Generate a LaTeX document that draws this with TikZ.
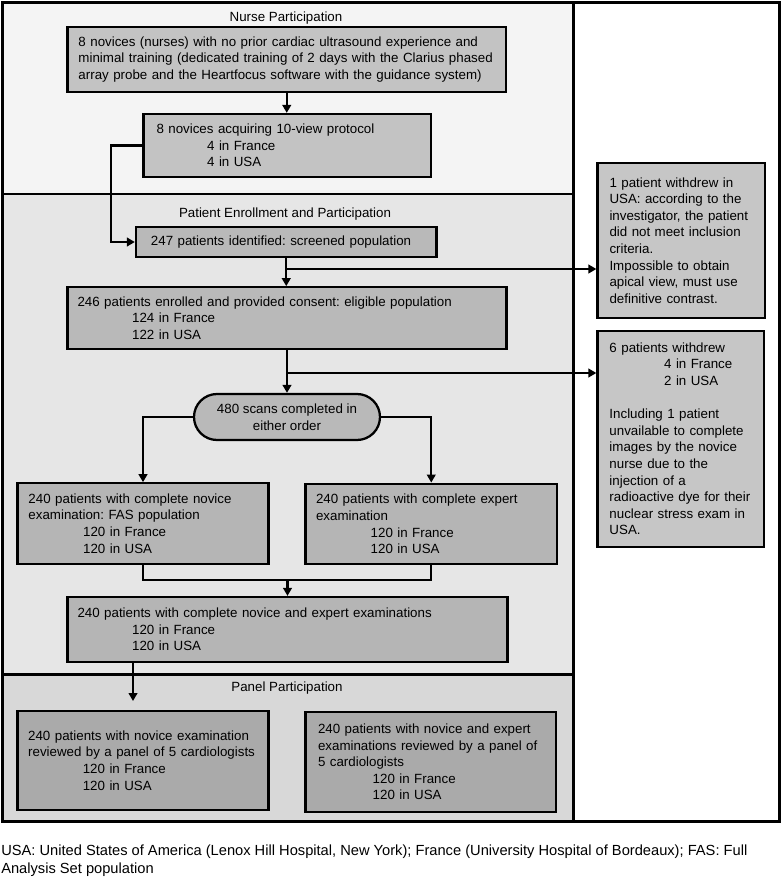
\documentclass[tikz,border=0pt]{standalone}
\usepackage{fontspec}
\setmainfont{Liberation Sans}
\usetikzlibrary{arrows.meta}
\frenchspacing
\hyphenpenalty=10000
\exhyphenpenalty=10000
\definecolor{nurseBG}{HTML}{F4F4F4}
\definecolor{patBG}{HTML}{E6E6E6}
\definecolor{panBG}{HTML}{D8D8D8}
\definecolor{boxN}{HTML}{C3C3C3}
\definecolor{boxP}{HTML}{B9B9B9}
\definecolor{boxE}{HTML}{B5B5B5}
\definecolor{boxQ}{HTML}{AAAAAA}
\definecolor{boxR}{HTML}{C6C6C6}
\newcommand{\myind}{\hspace*{41pt}}
\begin{document}
\begin{tikzpicture}[x=0.75pt,y=-0.75pt,
  every node/.style={font=\fontsize{10pt}{12.45pt}\selectfont},
  box/.style={draw=black, line width=1.7pt, align=left, inner ysep=0pt, anchor=center},
  ttl/.style={inner sep=0pt},
  conn/.style={line width=1.8pt},
  arr/.style={conn, -{Triangle[length=6pt,width=6.5pt]}},
  panel/.style={draw=black, line width=2.2pt}]
\useasboundingbox (0,0) rectangle (782,878);
% panels
\fill[nurseBG] (3,3) rectangle (573.5,194);
\fill[patBG] (3,194) rectangle (573.5,674.5);
\fill[panBG] (3,674.5) rectangle (573.5,821);
\fill[white] (573.5,3) rectangle (779,821);
\draw[panel] (3,194) -- (573.5,194);
\draw[panel] (3,674.5) -- (573.5,674.5);
\draw[panel] (573.5,3) -- (573.5,821);
\draw[panel] (2.5,2.5) rectangle (779.5,821.5);
% titles
\node[ttl] (t1) at (286,17.7) {Nurse Participation};
\node[ttl] (t2) at (285,214) {Patient Enrollment and Participation};
\node[ttl] (t3) at (287,688.3) {Panel Participation};
% boxes
\node[box, fill=boxN, minimum width=328.9pt, minimum height=49.2pt, inner xsep=8.25pt, text width=312.4pt] (n1) at (286.75,59.5)
 {8 novices (nurses) with no prior cardiac ultrasound experience and\\minimal training (dedicated training of 2 days with the Clarius phased\\array probe and the Heartfocus software with the guidance system)};
\node[box, fill=boxN, minimum width=215.6pt, minimum height=47pt, inner xsep=9.75pt, text width=196.1pt] (n2) at (287.25,145.35)
 {8 novices acquiring 10-view protocol\\\hspace*{38pt}4 in France\\\hspace*{38pt}4 in USA};
\node[box, fill=boxP, minimum width=225.4pt, minimum height=22.05pt, inner xsep=11.25pt, text width=202.9pt] (p1) at (286.25,242)
 {247 patients identified: screened population};
\node[box, fill=boxP, minimum width=329.25pt, minimum height=46.3pt, inner xsep=7.5pt, text width=314.25pt] (p2) at (287,318.15)
 {246 patients enrolled and provided consent: eligible population\\\myind 124 in France\\\myind 122 in USA};
\node[box, fill=boxP, rounded corners=17.25pt, minimum width=139.5pt, minimum height=34.5pt, inner sep=0pt, align=center] (s) at (287,417)
 {480 scans completed in\\either order};
\node[box, fill=boxE, minimum width=188.25pt, minimum height=60.3pt, inner xsep=8.25pt, text width=171.75pt] (e1) at (143,523.5)
 {240 patients with complete novice\\examination: FAS population\\\myind 120 in France\\\myind 120 in USA};
\node[box, fill=boxE, minimum width=188.6pt, minimum height=60.45pt, inner xsep=7.9pt, text width=172.8pt] (e2) at (431.25,524)
 {240 patients with complete expert\\examination\\\myind 120 in France\\\myind 120 in USA};
\node[box, fill=boxE, minimum width=330pt, minimum height=48.5pt, inner xsep=7.5pt, text width=315pt] (p3) at (287.5,629.35)
 {240 patients with complete novice and expert examinations\\\myind 120 in France\\\myind 120 in USA};
\node[box, fill=boxQ, minimum width=188.25pt, minimum height=74.25pt, inner xsep=8pt, text width=172.25pt] (q1) at (143,760.5)
 {240 patients with novice examination\\\mbox{reviewed by a panel of 5 cardiologists}\\\myind 120 in France\\\myind 120 in USA};
\node[box, fill=boxQ, minimum width=187.9pt, minimum height=74.55pt, inner xsep=9.4pt, text width=169.1pt] (q2) at (430.75,762)
 {240 patients with novice and expert\\examinations reviewed by a panel of\\5 cardiologists\\\myind 120 in France\\\myind 120 in USA};
\node[box, fill=boxR, minimum width=125.6pt, minimum height=116.7pt, inner xsep=9pt, text width=107.6pt] (r1) at (681.25,240.5)
 {1 patient withdrew in\\USA: according to the\\investigator, the patient\\did not meet inclusion\\criteria.\\Impossible to obtain\\apical view, must use\\definitive contrast.};
\node[box, fill=boxR, minimum width=124.9pt, minimum height=161.8pt, inner xsep=9pt, text width=106.9pt] (r2) at (680.75,438.85)
 {6 patients withdrew\\\myind 4 in France\\\myind 2 in USA\\[12.45pt]Including 1 patient\\unvailable to complete\\images by the novice\\nurse due to the\\injection of a\\radioactive dye for their\\nuclear stress exam in\\USA.};
% footnote
\node[anchor=west, align=left, inner sep=0pt, font=\fontsize{11pt}{13.2pt}\selectfont] (fn) at (1,860.5)
 {USA: United States of America (Lenox Hill Hospital, New York); France (University Hospital of Bordeaux); FAS: Full\\Analysis Set population};
% connectors
\coordinate (c1) at (111,145);
\coordinate (b1) at (286.25,269);
\coordinate (b2) at (287,373);
\coordinate (m) at (287.5,580);
\coordinate (c2) at (133,701);
\draw[arr] (n1.south) -- (n1.south |- n2.north);
\draw[arr] (n2.west) -- (n2.west -| c1) |- (p1.west);
\draw[arr] (p1.south) -- (p1.south |- p2.north);
\draw[arr] (b1) -- (b1 -| r1.west);
\draw[arr] (p2.south) -- (p2.south |- s.north);
\draw[arr] (b2) -- (b2 -| r2.west);
\draw[arr] (s.west) -| (e1.north);
\draw[arr] (s.east) -| (e2.north);
\draw[conn] (e1.south) |- (m) -| (e2.south);
\draw[arr] (m) -- (m |- p3.north);
\draw[arr] (c2 |- p3.south) -- (c2);
\end{tikzpicture}
\end{document}
